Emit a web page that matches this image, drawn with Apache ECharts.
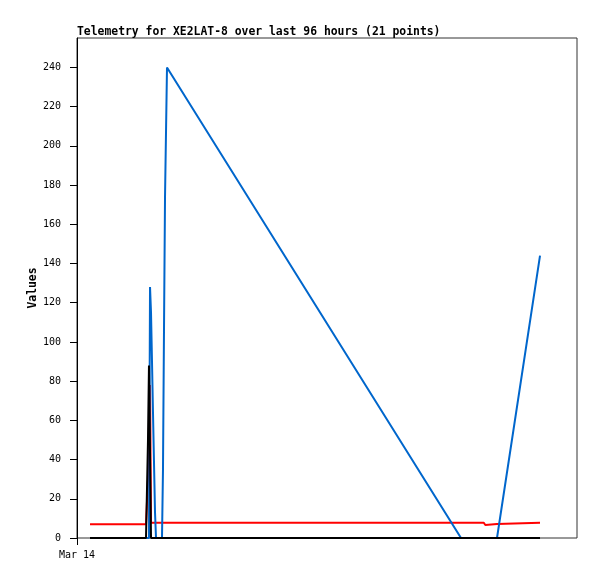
<!DOCTYPE html>
<html>
<head>
<meta charset="utf-8">
<script src="https://cdn.jsdelivr.net/npm/echarts@6/dist/echarts.min.js"></script>
<style>
html,body{margin:0;padding:0;background:#fff;}
#c{width:597px;height:579px;}
</style>
</head>
<body>
<div id="c"></div>
<script>
// hours since Mar 14 00:00
const hours = [2.50, 13.25, 13.63, 13.82, 14.02, 14.21, 14.40, 14.59, 14.78, 14.98, 15.17, 16.32, 16.51, 16.70, 16.90, 17.28, 73.73, 78.10, 78.40, 80.64, 88.90];
const blueVals  = [0, 0, 0, 0, 128, 115, 90, 64, 39, 13, 0, 0, 35, 105, 174, 240, 0, 0, 0, 0, 144];
const redVals   = [7, 7, 30, 57, 78, 7.8, 7.8, 7.8, 7.8, 7.8, 7.8, 7.8, 7.8, 7.8, 7.8, 7.8, 7.8, 7.8, 6.6, 7.2, 7.8];
const blackVals = [0, 0, 50, 88, 88, 0, 0, 0, 0, 0, 0, 0, 0, 0, 0, 0, 0, 0, 0, 0, 0];
const xTickLabels = ['Mar 14'];
const yTicks = [0, 20, 40, 60, 80, 100, 120, 140, 160, 180, 200, 220, 240];

const pair = v => hours.map((h, i) => [h, v[i]]);
const mono = '"DejaVu Sans Mono", "Liberation Mono", monospace';

const chart = echarts.init(document.getElementById('c'), null, {renderer: 'canvas'});
chart.setOption({
  animation: false,
  backgroundColor: '#fff',
  title: {
    text: 'Telemetry for XE2LAT-8 over last 96 hours (21 points)',
    left: 72, top: 22,
    textStyle: {fontFamily: mono, fontSize: 11.4, fontWeight: 'bold', color: '#000'}
  },
  grid: {left: 77, top: 38, right: 20, bottom: 41, show: true, borderColor: '#333', borderWidth: 1, backgroundColor: 'transparent'},
  xAxis: {
    type: 'value', min: 0, max: 96, interval: 96,
    axisLine: {show: false},
    splitLine: {show: false},
    axisTick: {show: true, length: 7, customValues: [0], lineStyle: {color: '#000'}},
    axisLabel: {
      customValues: [0],
      margin: 12,
      fontFamily: mono, fontSize: 10, color: '#000',
      formatter: v => v === 0 ? xTickLabels[0] : ''
    }
  },
  yAxis: {
    type: 'value', min: 0, max: 255, interval: 20,
    name: 'Values', nameLocation: 'middle', nameGap: 38, nameRotate: 90,
    nameMoveOverlap: false,
    nameTextStyle: {fontFamily: mono, fontSize: 11.4, fontWeight: 'bold', color: '#000'},
    axisLine: {show: true, lineStyle: {color: '#000', width: 1}},
    splitLine: {show: false},
    axisTick: {show: true, length: 7, customValues: yTicks, lineStyle: {color: '#000'}},
    axisLabel: {
      customValues: yTicks,
      margin: 16, fontFamily: mono, fontSize: 10, color: '#000'
    }
  },
  series: [
    {type: 'line', data: pair(redVals), showSymbol: false, symbol: 'none', lineStyle: {color: '#ff0000', width: 2}, itemStyle: {color: '#ff0000'}, z: 2},
    {type: 'line', data: pair(blueVals), showSymbol: false, symbol: 'none', lineStyle: {color: '#0066cc', width: 2}, itemStyle: {color: '#0066cc'}, z: 3},
    {type: 'line', data: pair(blackVals), showSymbol: false, symbol: 'none', lineStyle: {color: '#000000', width: 2}, itemStyle: {color: '#000'}, z: 4}
  ]
});
</script>
</body>
</html>
